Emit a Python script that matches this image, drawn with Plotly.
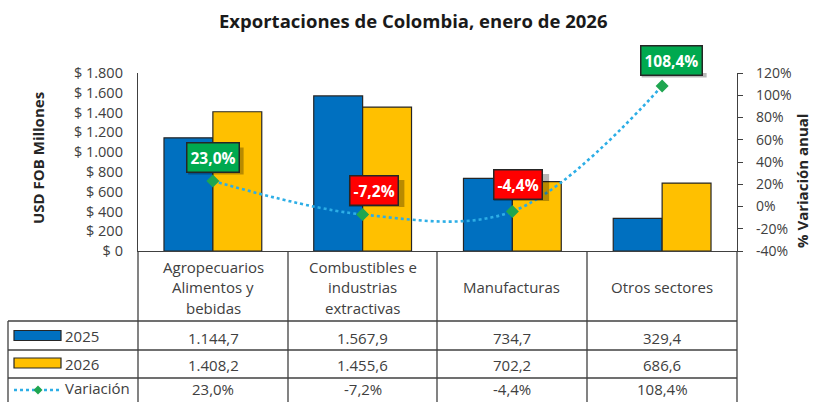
import plotly.graph_objects as go

# ---------------- data ----------------
categories = ["Agropecuarios Alimentos y bebidas", "Combustibles e industrias extractivas",
              "Manufacturas", "Otros sectores"]
category_lines = [["Agropecuarios", "Alimentos y", "bebidas"],
                  ["Combustibles e", "industrias", "extractivas"],
                  ["Manufacturas"],
                  ["Otros sectores"]]
exports_2025 = [1144.7, 1567.9, 734.7, 329.4]
exports_2026 = [1408.2, 1455.6, 702.2, 686.6]
variation = [23.0, -7.2, -4.4, 108.4]
series_names = ["2025", "2026", "Variación"]
left_ticks = [0, 200, 400, 600, 800, 1000, 1200, 1400, 1600, 1800]
right_ticks = [-40, -20, 0, 20, 40, 60, 80, 100, 120]
title_text = "Exportaciones de Colombia, enero de 2026"
left_title = "USD FOB Millones"
right_title = "% Variación anual"

# ---------------- style ----------------
W, H = 813, 402
PL, PR, PT, PB = 138, 737, 73, 251
BLUE, YELLOW = "#0070C0", "#FFC000"
OUTLINE = "#262626"
LINE_BLUE = "#2DAEE6"
DIAMOND = "#1FA650"
GREEN_LBL, RED_LBL = "#00A94F", "#FF0000"
GRID = "#404040"
TXT = "#404040"
FONT = "Open Sans"


def X(px):
    return (px - PL) / (PR - PL)


def Y(py):
    return (PB - py) / (PB - PT)


def fmt_num(v, dec=1):
    s = f"{v:,.{dec}f}"
    return s.replace(",", "X").replace(".", ",").replace("X", ".")


def fmt_pct(v):
    return f"{v:.1f}".replace(".", ",") + "%"


left_ticktext = ["$ " + fmt_num(v, 0) for v in left_ticks]
right_ticktext = [f"{v}%" for v in right_ticks]

fig = go.Figure()
fig.add_trace(go.Bar(x=categories, y=exports_2025, name=series_names[0],
                     marker=dict(color=BLUE, line=dict(color=OUTLINE, width=1.2))))
fig.add_trace(go.Bar(x=categories, y=exports_2026, name=series_names[1],
                     marker=dict(color=YELLOW, line=dict(color=OUTLINE, width=1.2))))
fig.add_trace(go.Scatter(x=categories, y=variation, name=series_names[2], yaxis="y2",
                         mode="lines+markers",
                         line=dict(color=LINE_BLUE, width=2.6, dash="dot", shape="spline", smoothing=1.0),
                         marker=dict(symbol="diamond", size=10, color=DIAMOND)))

shapes = []
annotations = []

# label boxes on the variation line (with a soft drop shadow)
offsets = [(0, 23), (11, 24), (6, 27), (9, 25)]
for i, v in enumerate(variation):
    dx, dy = offsets[i]
    bg = GREEN_LBL if v >= 0 else RED_LBL
    txt = fmt_pct(v)
    half_w = (9.5 * len(txt) + 8) / 2
    half_h = 13.5
    shapes.append(dict(type="rect", xref="x", yref="y2", xsizemode="pixel", ysizemode="pixel",
                       xanchor=categories[i], yanchor=v, layer="above",
                       x0=dx - half_w + 3, x1=dx + half_w + 3, y0=dy - half_h - 3, y1=dy + half_h - 3,
                       fillcolor="rgba(0,0,0,0.28)", line=dict(width=0)))
    annotations.append(dict(x=categories[i], y=v, xref="x", yref="y2", text="<b>" + txt + "</b>",
                            showarrow=False, xshift=dx, yshift=dy,
                            font=dict(family=FONT, size=15.5, color="white"),
                            bgcolor=bg, borderpad=3, borderwidth=1.5, bordercolor=OUTLINE))

# ---------------- data table ----------------
col_edges = [138, 288, 437, 587, 737]
row_edges = [251, 321, 350, 378, 407]
left_col = 8
lw = 1.3
for xe in col_edges:
    shapes.append(dict(type="line", xref="paper", yref="paper", x0=X(xe), x1=X(xe),
                       y0=Y(row_edges[0]), y1=Y(row_edges[-1]), line=dict(color=GRID, width=lw)))
shapes.append(dict(type="line", xref="paper", yref="paper", x0=X(left_col), x1=X(left_col),
                   y0=Y(row_edges[1]), y1=Y(row_edges[-1]), line=dict(color=GRID, width=lw)))
for ye in row_edges[1:]:
    shapes.append(dict(type="line", xref="paper", yref="paper", x0=X(left_col), x1=X(col_edges[-1]),
                       y0=Y(ye), y1=Y(ye), line=dict(color=GRID, width=lw)))

# header (category names)
line_gap = 20.5
for i, lines in enumerate(category_lines):
    cx = (col_edges[i] + col_edges[i + 1]) / 2
    n = len(lines)
    mid = 287
    for k, t in enumerate(lines):
        cy = mid + (k - (n - 1) / 2) * line_gap
        annotations.append(dict(x=X(cx), y=Y(cy), xref="paper", yref="paper", text=t,
                                showarrow=False, xanchor="center", yanchor="middle",
                                font=dict(family=FONT, size=15, color=TXT)))

# rows of values
rows = [[fmt_num(v) for v in exports_2025],
        [fmt_num(v) for v in exports_2026],
        [fmt_pct(v) for v in variation]]
row_centers = [337.5, 365, 389]
for r, vals in enumerate(rows):
    for i, t in enumerate(vals):
        cx = (col_edges[i] + col_edges[i + 1]) / 2
        annotations.append(dict(x=X(cx), y=Y(row_centers[r]), xref="paper", yref="paper", text=t,
                                showarrow=False, xanchor="center", yanchor="middle",
                                font=dict(family=FONT, size=15, color=TXT)))
    annotations.append(dict(x=X(63), y=Y(row_centers[r] - 1.5), xref="paper", yref="paper",
                            text=series_names[r], showarrow=False, xanchor="left", yanchor="middle",
                            font=dict(family=FONT, size=15, color=TXT)))

# legend keys
key_centers = [335.5, 363, 390]
for r, col in enumerate([BLUE, YELLOW]):
    cy = key_centers[r]
    shapes.append(dict(type="rect", xref="paper", yref="paper", x0=X(14), x1=X(61),
                       y0=Y(cy - 5), y1=Y(cy + 5), fillcolor=col, line=dict(color=OUTLINE, width=1.2)))
cy = key_centers[2]
shapes.append(dict(type="line", xref="paper", yref="paper", x0=X(14), x1=X(61),
                   y0=Y(cy), y1=Y(cy), line=dict(color=LINE_BLUE, width=2.6, dash="dot")))
d = 4.5
cxk = 38
path = "M {} {} L {} {} L {} {} L {} {} Z".format(X(cxk - d), Y(cy), X(cxk), Y(cy - d),
                                                   X(cxk + d), Y(cy), X(cxk), Y(cy + d))
shapes.append(dict(type="path", xref="paper", yref="paper", path=path, fillcolor=DIAMOND,
                   line=dict(color=DIAMOND, width=0)))

# titles
annotations.append(dict(x=X(413), y=Y(20), xref="paper", yref="paper", text="<b>" + title_text + "</b>",
                        showarrow=False, xanchor="center", yanchor="middle",
                        font=dict(family=FONT, size=18.5, color="#1a1a1a")))
annotations.append(dict(x=X(38), y=Y(158), xref="paper", yref="paper", text="<b>" + left_title + "</b>",
                        showarrow=False, textangle=-90, xanchor="center", yanchor="middle",
                        font=dict(family=FONT, size=15, color="#262626")))
annotations.append(dict(x=X(802), y=Y(181), xref="paper", yref="paper", text="<b>" + right_title + "</b>",
                        showarrow=False, textangle=-90, xanchor="center", yanchor="middle",
                        font=dict(family=FONT, size=15, color="#262626")))

fig.update_layout(
    width=W, height=H,
    margin=dict(l=PL, r=W - PR, t=PT, b=H - PB),
    paper_bgcolor="white", plot_bgcolor="white",
    barmode="group", bargap=0.347, bargroupgap=0,
    showlegend=False,
    shapes=shapes, annotations=annotations,
    xaxis=dict(showticklabels=False, showgrid=False, zeroline=False, ticks="",
               showline=True, linecolor=GRID, linewidth=lw, range=[-0.5, 3.5]),
    yaxis=dict(range=[0, 1800], tickvals=left_ticks, ticktext=left_ticktext,
               showgrid=False, zeroline=False, showline=True, linecolor=GRID, linewidth=lw,
               ticks="", ticklabelstandoff=11,
               tickfont=dict(family=FONT, size=14.5, color=TXT)),
    yaxis2=dict(range=[-40, 120], tickvals=right_ticks, ticktext=right_ticktext,
                overlaying="y", side="right",
                showgrid=False, zeroline=False, showline=True, linecolor=GRID, linewidth=lw,
                ticks="outside", ticklen=5, tickcolor=GRID, ticklabelstandoff=10,
                tickfont=dict(family=FONT, size=14, color=TXT)),
)

fig.write_html("out.html", config={"displayModeBar": False},
               post_script="document.body.style.margin='0px';document.body.style.overflow='hidden';")
